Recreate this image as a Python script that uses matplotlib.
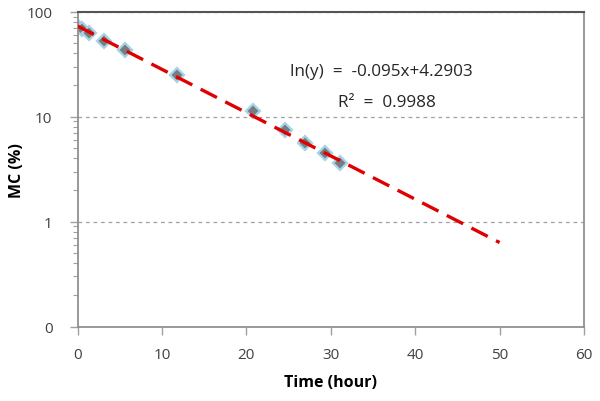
import numpy as np
import matplotlib
matplotlib.use("Agg")
import matplotlib.pyplot as plt
from matplotlib.ticker import FixedLocator, FixedFormatter, LogLocator, NullFormatter

# --- Data ---
time_h = [0.0, 0.5, 1.4, 3.1, 5.6, 11.8, 20.8, 24.6, 27.0, 29.3, 31.1]
mc_pct = [72.0, 68.0, 62.5, 53.0, 43.0, 25.0, 11.3, 7.4, 5.6, 4.55, 3.65]
slope, intercept = -0.095, 4.2903
r2 = 0.9988
fit_x = [0, 50]
y_ticks = [0.1, 1, 10, 100]
y_tick_labels = ["0", "1", "10", "100"]
x_ticks = [0, 10, 20, 30, 40, 50, 60]

plt.rcParams['font.family'] = ['Open Sans', 'DejaVu Sans']

fig = plt.figure(figsize=(6, 4.02), dpi=100)
ax = fig.add_axes([0.1292, 0.1853, 0.8442, 0.7831])

# trend line
fx = np.array(fit_x, dtype=float)
ax.plot(fx, np.exp(slope * fx + intercept), color='#e00000', lw=2.4,
        dashes=(5.5, 2.8), zorder=3)

# data points
ax.plot(time_h, mc_pct, linestyle='none', marker='D', ms=7.5,
        mfc='#767c82', mec='#a6d4e6', mew=1.6, zorder=2)

ax.set_yscale('log')
ax.set_xlim(0, 60)
ax.set_ylim(0.1, 100)

ax.yaxis.set_major_locator(FixedLocator(y_ticks))
ax.yaxis.set_major_formatter(FixedFormatter(y_tick_labels))
ax.yaxis.set_minor_locator(LogLocator(base=10, subs=np.arange(2, 10)))
ax.yaxis.set_minor_formatter(NullFormatter())
ax.set_xticks(x_ticks)

ax.tick_params(axis='both', which='major', labelsize=11, colors='#404040',
               length=6, width=1, direction='out')
ax.tick_params(axis='y', which='major', pad=12, color='#a0a0a0')
ax.tick_params(axis='x', which='major', pad=9, color='#a0a0a0')
ax.tick_params(axis='y', which='minor', length=3.5, width=0.8, color='#a0a0a0')

ax.grid(axis='y', which='major', color='#a0a0a0', linestyle=(0, (3, 3)), lw=0.9)

for side in ['left', 'bottom', 'right']:
    ax.spines[side].set_color('#909090')
    ax.spines[side].set_linewidth(1.3)
ax.spines['top'].set_color('#555555')
ax.spines['top'].set_linewidth(1.5)

ax.set_xlabel('Time (hour)', fontsize=11.5, fontweight='bold')
ax.set_ylabel('MC (%)', fontsize=11.5, fontweight='bold')
ax.xaxis.set_label_coords(0.5, -0.152)
ax.yaxis.set_label_coords(-0.104, 0.5)

ax.text(0.599, 0.812, 'ln(y)  =  -0.095x+4.2903', transform=ax.transAxes,
        ha='center', va='center', fontsize=12.3, color='#262626')
ax.text(0.611, 0.714, f'R²  =  {r2:.4f}', transform=ax.transAxes,
        ha='center', va='center', fontsize=12.3, color='#262626')

fig.savefig('out.png', dpi=100)
